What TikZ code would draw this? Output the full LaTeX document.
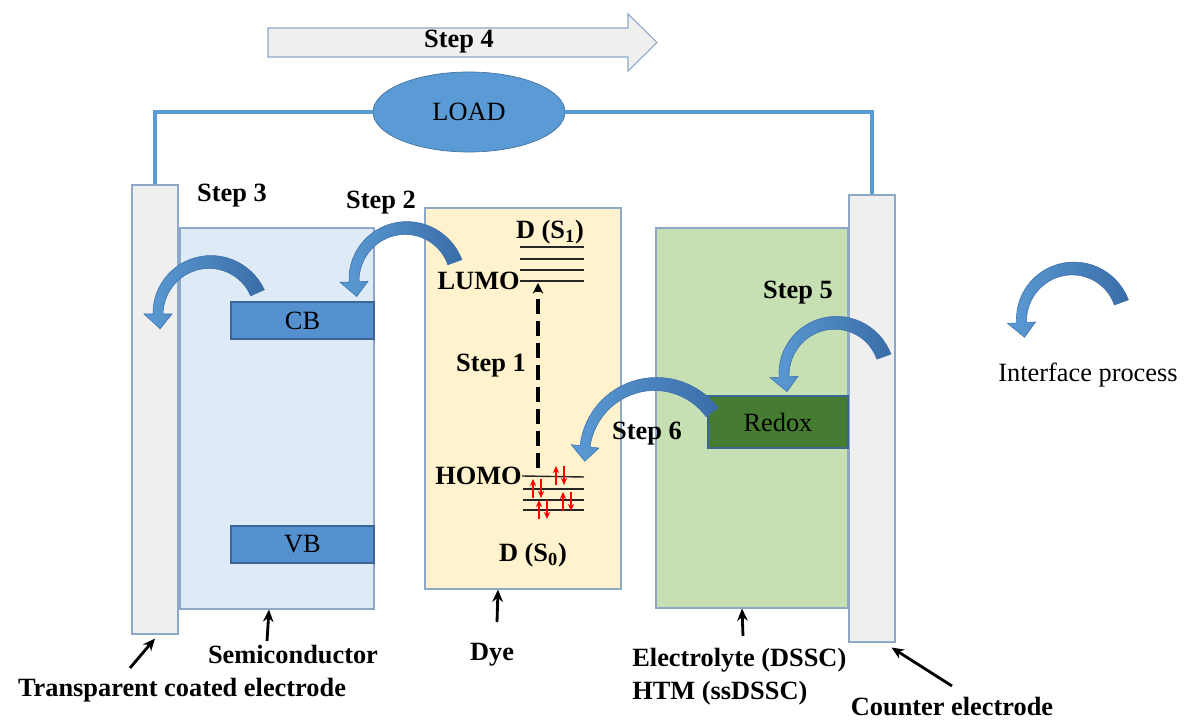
\documentclass[tikz,border=0pt]{standalone}
\usepackage{fontspec}
\setmainfont{Liberation Serif}
\usetikzlibrary{arrows.meta,shapes.geometric,positioning,calc}
\definecolor{edgeblue}{HTML}{8EA9C8}
\definecolor{elecgray}{HTML}{EFEFEF}
\definecolor{semiblue}{HTML}{DEEBF7}
\definecolor{bandblue}{HTML}{5590CF}
\definecolor{dyeyellow}{HTML}{FFF2CC}
\definecolor{elytegreen}{HTML}{C6E0B4}
\definecolor{redoxgreen}{HTML}{467C31}
\definecolor{wireblue}{HTML}{5B9BD5}
\definecolor{arrowdark}{HTML}{3A6DA8}
\definecolor{arrowlight}{HTML}{5B9BD5}
\newcommand\fs{\fontsize{15}{18.5}\selectfont}
\newcommand\pxl{0.02cm}
\tikzset{
  layer/.style={draw=edgeblue,line width=0.6pt,inner sep=0pt},
  band/.style={layer,draw=bandblue!70!black,font=\fs},
  lbl/.style={font=\bfseries\fs,inner sep=0pt},
  level/.style={line width=0.8pt,black!85},
  spin/.style={red,line width=0.8pt,-{Stealth[length=4pt,width=3.5pt]}},
  pointer/.style={line width=1.6pt,-{Stealth[length=7pt,width=6pt]}},
  wire/.style={wireblue,line width=1.8pt},
  bendfill/.style={left color=arrowlight,right color=arrowdark,draw=arrowdark,line width=0.3pt}
}
% curved block arrow: centre x, centre y, radius, tail angle, head angle
\newcommand\bendarrow[5]{%
  \begin{scope}[shift={(#1,#2)}]
    \pgfmathsetmacro\hd{15/(#3)*57.3}
    \path[bendfill] plot[domain=#4:#5,samples=30] (\x:{#3+(15-5*(\x-(#4))/((#5)-(#4)))/2})
      -- ({#5}:{#3+14}) -- ({#5-\hd}:{#3}) -- ({#5}:{#3-14})
      -- plot[domain=#5:#4,samples=30] (\x:{#3-(15-5*(\x-(#4))/((#5)-(#4)))/2}) -- cycle;
  \end{scope}}

\begin{document}
\begin{tikzpicture}[x=0.02cm,y=-0.02cm]
  \useasboundingbox (0,0) rectangle (1184,722);
  % layers
  \node[layer,fill=elecgray,minimum width=46*\pxl,minimum height=449*\pxl] (tce) at (155,409.5) {};
  \node[layer,fill=semiblue,minimum width=194*\pxl,minimum height=381*\pxl] (semi) at (277,418.5) {};
  \node[layer,fill=dyeyellow,minimum width=196*\pxl,minimum height=381*\pxl] (dye) at (523,398.5) {};
  \node[layer,fill=elytegreen,minimum width=192*\pxl,minimum height=380*\pxl] (elyte) at (752,418) {};
  \node[layer,fill=elecgray,minimum width=46*\pxl,minimum height=447*\pxl] (ce) at (872,418.5) {};
  \node[band,fill=bandblue,minimum width=143*\pxl,minimum height=37*\pxl] (cb) at (302.5,320.5) {CB};
  \node[band,fill=bandblue,minimum width=143*\pxl,minimum height=37*\pxl] (vb) at (302.5,544.5) {VB};
  \node[band,fill=redoxgreen,minimum width=140*\pxl,minimum height=52*\pxl] (redox) at (778,422) {Redox};

  % external circuit
  \node[ellipse,draw=wireblue!75!black,fill=wireblue,minimum width=192*\pxl,minimum height=80*\pxl,font=\fs] (load) at (469,112) {LOAD};
  \draw[wire] (tce.north) |- (load.west);
  \draw[wire] (load.east) -| (ce.north);
  \draw[layer,fill=elecgray] (268,28) -- (628,28) -- (628,14) -- (657,42.5) -- (628,71) -- (628,57) -- (268,57) -- cycle;
  \node[lbl] (s4) at (459,42) {Step 4};

  % dye levels
  \node[lbl,anchor=east] (lumo) at (520,281) {LUMO};
  \node[lbl,anchor=east] (homo) at (522,476) {HOMO};
  \draw[level] (lumo.east) -- (584,281);
  \foreach \y in {247,259,270} \draw[level] (520,\y) -- (584,\y);
  \draw[level] (homo.east) -- (584,477);
  \foreach \y in {489,500,510} \draw[level] (523,\y) -- (584,\y);
  \foreach \x/\y in {533/479,556/466,539/500,563/492}{
    \draw[spin] (\x,\y+19) -- (\x,\y);
    \draw[spin] (\x+8,\y) -- (\x+8,\y+19);
  }
  \coordinate (exc0) at (538,468);
  \coordinate (exc1) at (538,283);
  \draw[line width=2pt,dash pattern=on 0.3cm off 0.14cm,-{Stealth[length=6pt,width=6pt]}] (exc0) -- (exc1);

  % interface processes
  \bendarrow{210}{314}{52}{-24}{-180}
  \bendarrow{406}{280}{52}{-20}{-182}
  \bendarrow{835.5}{374.3}{51.5}{-20}{-183}
  \bendarrow{655.5}{455}{71}{-37}{-173}
  \bendarrow{1073}{320}{51.5}{-20}{-183}

  % step labels
  \node[lbl] (s3) at (232,196) {Step 3};
  \node[lbl] (s2) at (381,203) {Step 2};
  \node[lbl] (ds1) at (550,232) {D (S\textsubscript{1})};
  \node[lbl] (s1) at (491,366) {Step 1};
  \node[lbl] (ds0) at (533,555) {D (S\textsubscript{0})};
  \node[lbl] (s6) at (647,434) {Step 6};
  \node[lbl] (s5) at (798,293) {Step 5};
  \node[font=\fs,inner sep=0pt] (iface) at (1088,375) {Interface process};

  % layer names
  \node[lbl] (tcename) at (182,690) {Transparent coated electrode};
  \node[lbl] (seminame) at (293,655) {Semiconductor};
  \node[lbl] (dyename) at (492,655) {Dye};
  \node[lbl,anchor=west,align=left] (elytename) at (632,676.5) {Electrolyte (DSSC)\\HTM (ssDSSC)};
  \node[lbl] (cename) at (952,707) {Counter electrode};
  \draw[pointer] (130,668) -- ($(tce.south)+(0,4)$);
  \draw[pointer] (267,641) -- (semi.south -| 269,0);
  \draw[pointer] (497,622) -- (dye.south -| 498,0);
  \draw[pointer] (743,636) -- (elyte.south -| 742,0);
  \draw[pointer] (952,686) -- ($(ce.south east)+(-4,5)$);
\end{tikzpicture}
\end{document}
